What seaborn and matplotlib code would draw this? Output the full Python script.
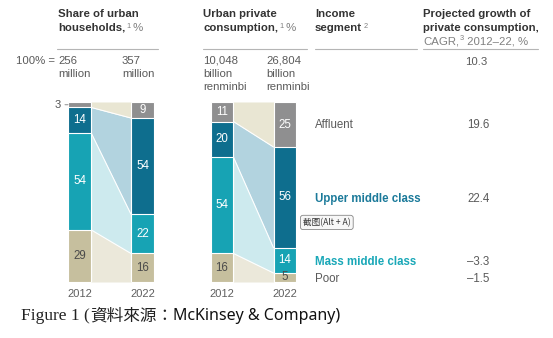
import numpy as np
import pandas as pd
import matplotlib
matplotlib.use("Agg")
import matplotlib.pyplot as plt
import seaborn as sns

# ---------------- data ----------------
years = ["2012", "2022"]
segments = ["Poor", "Mass middle class", "Upper middle class", "Affluent"]  # bottom -> top
households_2012 = [29, 54, 14, 3]
households_2022 = [16, 22, 54, 9]
consumption_2012 = [16, 54, 20, 11]
consumption_2022 = [5, 14, 56, 25]
households_total = ["256\nmillion", "357\nmillion"]
consumption_total = ["10,048\nbillion\nrenminbi", "26,804\nbillion\nrenminbi"]
segment_labels = ["Affluent", "Upper middle class", "Mass middle class", "Poor"]
cagr_total = "10.3"
cagr_values = ["19.6", "22.4", "\u20133.3", "\u20131.5"]

# ---------------- style ----------------
sns.set_theme(style="white")
plt.rcParams["font.family"] = ["Liberation Sans", "DejaVu Sans"]

bar_colors = ["#c6bf9e", "#17a3b4", "#0e6e8e", "#8f8f90"]
band_colors = ["#ebe8da", "#cdeaee", "#b2d3df", "#e9e6d3"]
label_colors = ["#4a4a4a", "white", "white", "white"]
DARK = "#333333"
GRAY = "#808080"
MID = "#5a5a5a"

W, H = 553, 338
fig = plt.figure(figsize=(W / 100, H / 100), dpi=100)
fig.patch.set_facecolor("white")

def fx(x):
    return x / W

def fy(y):
    return 1 - y / H

BAR_TOP, BAR_BOT = 102, 282
UNIT = 63.0
WIDTH = 0.365

def make_ax(center0):
    left = center0 - UNIT / 2
    ax = fig.add_axes([fx(left), fy(BAR_BOT), 2 * UNIT / W, (BAR_BOT - BAR_TOP) / H])
    return ax

def draw_chart(ax, v2012, v2022, show_small_outside=False):
    a = np.array(v2012, float)
    b = np.array(v2022, float)
    a = a / a.sum() * 100
    b = b / b.sum() * 100
    ca = np.concatenate([[0], np.cumsum(a)])
    cb = np.concatenate([[0], np.cumsum(b)])
    # bands between bars
    x0, x1 = WIDTH / 2, 1 - WIDTH / 2
    for i in range(4):
        ax.fill_between([x0, x1], [ca[i], cb[i]], [ca[i + 1], cb[i + 1]],
                        color=band_colors[i], lw=0, zorder=1)
        if i > 0:
            ax.plot([x0, x1], [ca[i], cb[i]], color="white", lw=0.8, zorder=1.5)
    # stacked bars via cumulative overlap
    for i in range(3, -1, -1):
        df = pd.DataFrame({"year": years, "val": [ca[i + 1], cb[i + 1]]})
        sns.barplot(data=df, x="year", y="val", order=years, color=bar_colors[i],
                    width=WIDTH, saturation=1, edgecolor="white", linewidth=0.8,
                    ax=ax, zorder=2)
    # labels
    raw = [v2012, v2022]
    cums = [ca, cb]
    for j in range(2):
        for i in range(4):
            v = raw[j][i]
            mid = (cums[j][i] + cums[j][i + 1]) / 2
            if v < 5 and show_small_outside and j == 0:
                ax.annotate(str(v), xy=(j - WIDTH / 2, mid), xytext=(-5.5, 0),
                            textcoords="offset points", ha="right", va="center",
                            fontsize=8, color="#555555",
                            arrowprops=dict(arrowstyle="-", color="#9a9a9a", lw=0.8,
                                            shrinkA=1, shrinkB=0))
                continue
            ax.text(j, mid, str(v), ha="center", va="center", fontsize=8.3,
                    color=label_colors[i], zorder=3)
    ax.set_xlim(-0.5, 1.5)
    ax.set_ylim(0, 100)
    ax.set_xlabel("")
    ax.set_ylabel("")
    ax.set_yticks([])
    ax.tick_params(axis="x", length=0, pad=5, labelsize=8, labelcolor="#5f5f5f")
    for s in ax.spines.values():
        s.set_visible(False)
    ax.patch.set_alpha(0)

ax1 = make_ax(79.5)
draw_chart(ax1, households_2012, households_2022, show_small_outside=True)
ax2 = make_ax(222.0)
draw_chart(ax2, consumption_2012, consumption_2022)

fig.canvas.draw()
R = fig.canvas.get_renderer()

def T(x, y, s, **kw):
    kw.setdefault("va", "baseline")
    kw.setdefault("fontsize", 8)
    kw.setdefault("color", DARK)
    return fig.text(fx(x), fy(y), s, **kw)

def seq(x, y, parts):
    cx = x
    for s, kw in parts:
        kw = dict(kw)
        dy = kw.pop("dy", 0)
        gap = kw.pop("gap", 0)
        t = T(cx, y + dy, s, **kw)
        cx += t.get_window_extent(renderer=R).width + gap
    return cx

HB = dict(fontweight="bold", fontsize=8.2, color=DARK)
SUP = dict(fontsize=5.3, color=GRAY, dy=-3.5)
REG = dict(fontsize=8.2, color=GRAY)

# headers
T(58, 17, "Share of urban", **HB)
seq(58, 31, [("households,", dict(HB, gap=1)), ("1", SUP), (" %", dict(REG, gap=0))])
T(203, 17, "Urban private", **HB)
seq(203, 31, [("consumption,", dict(HB, gap=1)), ("1", SUP), (" %", REG)])
T(315, 17, "Income", **HB)
seq(315, 31, [("segment", dict(HB, gap=1)), ("2", SUP)])
T(423, 17, "Projected growth of", **HB)
T(423, 31, "private consumption,", **HB)
seq(423, 44, [("CAGR,", dict(REG, gap=1)), ("3", SUP), (" 2012\u201322, %", REG)])

# header rules
for x0, x1 in [(57, 158), (203, 307), (315, 417), (423, 538)]:
    fig.add_artist(plt.Line2D([fx(x0), fx(x1)], [fy(49), fy(49)], color="#b5b5b5", lw=0.8))

# totals
TOT = dict(fontsize=8.2, color=MID, linespacing=1.38, va="top")
T(16, 55.5, "100% =", **TOT)
T(58, 55.5, households_total[0], **TOT)
T(122, 55.5, households_total[1], **TOT)
T(203, 55.5, consumption_total[0], **TOT)
T(266, 55.5, consumption_total[1], **TOT)
T(465, 65, cagr_total, fontsize=8.2, color=MID)

# segment labels and CAGR
seg_y = [128, 202, 265, 282]
seg_styles = [dict(color=MID), dict(color="#1b7a9a", fontweight="bold"),
              dict(color="#1aa8b8", fontweight="bold"), dict(color=MID)]
for lab, yy, st, val in zip(segment_labels, seg_y, seg_styles, cagr_values):
    T(315, yy, lab, fontsize=8.3, **st)
    T(467, yy, val, fontsize=8.3, color=MID)

# screenshot tooltip artifact
T(303, 225, "截图(Alt + A)", fontsize=6.2, color="#333333",
  family=["Noto Sans CJK SC", "DejaVu Sans"],
  bbox=dict(boxstyle="round,pad=0.3", fc="#f7f7f7", ec="#888888", lw=0.6))

# caption
cx = seq(21, 320, [("Figure 1 (", dict(fontsize=12.5, color="#222222",
                                        family=["Liberation Serif"])),
                   ("資料來源：", dict(fontsize=12, color="#222222",
                                  family=["Noto Sans CJK TC", "DejaVu Sans"]))])
T(cx, 320, "McKinsey & Company)", fontsize=11.5, color="#111111",
  family=["Noto Sans", "DejaVu Sans"])

fig.savefig("out.png", dpi=100, facecolor="white")
